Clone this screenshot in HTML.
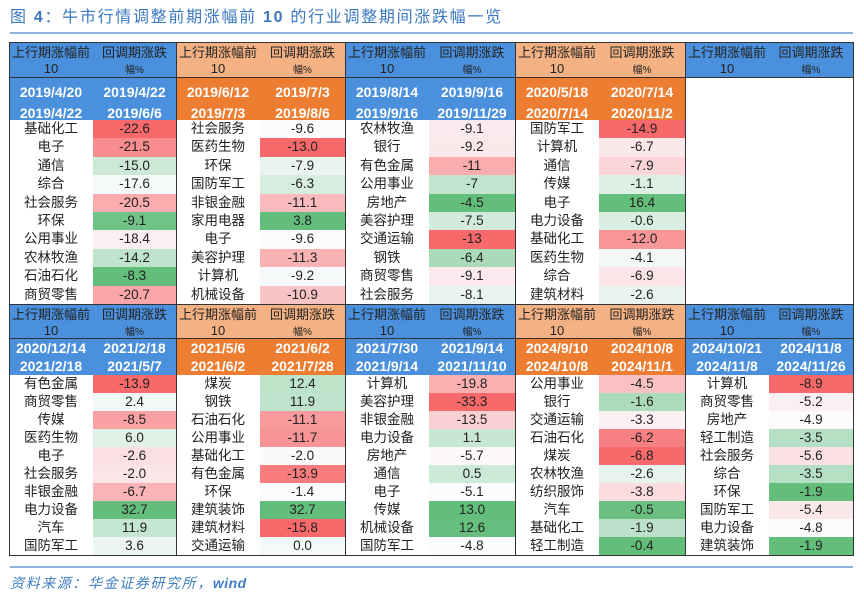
<!DOCTYPE html>
<html><head><meta charset="utf-8">
<style>
*{margin:0;padding:0;box-sizing:border-box}
body{width:864px;height:601px;background:#fff;overflow:hidden;position:relative;font-family:"Liberation Sans","Noto Sans CJK SC",sans-serif;color:#222}
.title{position:absolute;left:10px;top:7px;font-size:16px;letter-spacing:1.7px;color:#3b78c0;white-space:nowrap;line-height:22px}
.title b{font-weight:bold}
.rule{position:absolute;left:10px;width:843px;height:2px;background:#8db3df}
.src{position:absolute;left:10px;top:573px;font-size:14px;letter-spacing:1.6px;color:#3f7cc2;font-style:italic;white-space:nowrap;line-height:20px}
.src b{font-weight:bold;letter-spacing:0.5px}
.blk{position:absolute;overflow:hidden}
.hd{display:flex;width:100%}
.hd .c{text-align:center;font-size:13px;line-height:16px;padding-top:3px}
.l{width:84px;flex:none}
.r{flex:1}
.s{font-size:10px}
.blue{background:#4a90dc}
.peach{background:#f4b183}
.orng{background:#ed7d31}
.dt{display:flex;width:100%;color:#fff;font-weight:bold;font-size:14px}
.dt .c{text-align:center}
.A .dt .c{line-height:21px;padding-top:4.5px}
.B .dt .c{line-height:18px;padding-top:0.5px}
.row{display:flex;width:100%}
.A .row{height:18.4px;line-height:18.4px}
.B .row{height:18px;line-height:18px}
.row .n{width:84px;flex:none;text-align:center;font-size:13.5px;background:#fff}
.row .v{flex:1;text-align:center;font-size:13.5px}
.ln{position:absolute;background:#333}
</style></head><body>

<div class="title">图 <b>4</b>：牛市行情调整前期涨幅前 <b>10</b> 的行业调整期间涨跌幅一览</div>
<div class="rule" style="top:32px"></div>

<!-- Section A -->
<div class="blk A" style="left:9px;top:42px;width:167px;height:262px">
 <div class="hd blue" style="height:35px"><div class="c l">上行期涨幅前<br>10</div><div class="c r">回调期涨跌<br><span class="s">幅%</span></div></div>
 <div class="dt blue" style="height:43px"><div class="c l">2019/4/20<br>2019/4/22</div><div class="c r">2019/4/22<br>2019/6/6</div></div>
 <div class="row"><div class="n">基础化工</div><div class="v" style="background:#F8696B">-22.6</div></div>
 <div class="row"><div class="n">电子</div><div class="v" style="background:#F98C8E">-21.5</div></div>
 <div class="row"><div class="n">通信</div><div class="v" style="background:#CDE9D6">-15.0</div></div>
 <div class="row"><div class="n">综合</div><div class="v" style="background:#F6F9FA">-17.6</div></div>
 <div class="row"><div class="n">社会服务</div><div class="v" style="background:#FAACAF">-20.5</div></div>
 <div class="row"><div class="n">环保</div><div class="v" style="background:#70C386">-9.1</div></div>
 <div class="row"><div class="n">公用事业</div><div class="v" style="background:#FCEFF2">-18.4</div></div>
 <div class="row"><div class="n">农林牧渔</div><div class="v" style="background:#C0E4CB">-14.2</div></div>
 <div class="row"><div class="n">石油石化</div><div class="v" style="background:#63BE7B">-8.3</div></div>
 <div class="row"><div class="n">商贸零售</div><div class="v" style="background:#FAA6A8">-20.7</div></div>
</div>

<div class="blk A" style="left:176px;top:42px;width:169px;height:262px">
 <div class="hd peach" style="height:35px"><div class="c l">上行期涨幅前<br>10</div><div class="c r">回调期涨跌<br><span class="s">幅%</span></div></div>
 <div class="dt orng" style="height:43px"><div class="c l">2019/6/12<br>2019/7/3</div><div class="c r">2019/7/3<br>2019/8/6</div></div>
 <div class="row"><div class="n">社会服务</div><div class="v" style="background:#FCFCFF">-9.6</div></div>
 <div class="row"><div class="n">医药生物</div><div class="v" style="background:#F8696B">-13.0</div></div>
 <div class="row"><div class="n">环保</div><div class="v" style="background:#E9F4EE">-7.9</div></div>
 <div class="row"><div class="n">国防军工</div><div class="v" style="background:#D6EDDF">-6.3</div></div>
 <div class="row"><div class="n">非银金融</div><div class="v" style="background:#FABBBE">-11.1</div></div>
 <div class="row"><div class="n">家用电器</div><div class="v" style="background:#63BE7B">3.8</div></div>
 <div class="row"><div class="n">电子</div><div class="v" style="background:#FCFCFF">-9.6</div></div>
 <div class="row"><div class="n">美容护理</div><div class="v" style="background:#FAB3B5">-11.3</div></div>
 <div class="row"><div class="n">计算机</div><div class="v" style="background:#F7FAFB">-9.2</div></div>
 <div class="row"><div class="n">机械设备</div><div class="v" style="background:#FAC4C6">-10.9</div></div>
</div>

<div class="blk A" style="left:345px;top:42px;width:170px;height:262px">
 <div class="hd blue" style="height:35px"><div class="c l">上行期涨幅前<br>10</div><div class="c r">回调期涨跌<br><span class="s">幅%</span></div></div>
 <div class="dt blue" style="height:43px"><div class="c l">2019/8/14<br>2019/9/16</div><div class="c r">2019/9/16<br>2019/11/29</div></div>
 <div class="row"><div class="n">农林牧渔</div><div class="v" style="background:#FCEBEE">-9.1</div></div>
 <div class="row"><div class="n">银行</div><div class="v" style="background:#FBE8EB">-9.2</div></div>
 <div class="row"><div class="n">有色金属</div><div class="v" style="background:#FAACAE">-11</div></div>
 <div class="row"><div class="n">公用事业</div><div class="v" style="background:#C0E4CC">-7</div></div>
 <div class="row"><div class="n">房地产</div><div class="v" style="background:#63BE7B">-4.5</div></div>
 <div class="row"><div class="n">美容护理</div><div class="v" style="background:#D3EBDC">-7.5</div></div>
 <div class="row"><div class="n">交通运输</div><div class="v" style="background:#F8696B">-13</div></div>
 <div class="row"><div class="n">钢铁</div><div class="v" style="background:#AADBB8">-6.4</div></div>
 <div class="row"><div class="n">商贸零售</div><div class="v" style="background:#FCEBEE">-9.1</div></div>
 <div class="row"><div class="n">社会服务</div><div class="v" style="background:#E9F4EF">-8.1</div></div>
</div>

<div class="blk A" style="left:515px;top:42px;width:170px;height:262px">
 <div class="hd peach" style="height:35px"><div class="c l">上行期涨幅前<br>10</div><div class="c r">回调期涨跌<br><span class="s">幅%</span></div></div>
 <div class="dt orng" style="height:43px"><div class="c l">2020/5/18<br>2020/7/14</div><div class="c r">2020/7/14<br>2020/11/2</div></div>
 <div class="row"><div class="n">国防军工</div><div class="v" style="background:#F8696B">-14.9</div></div>
 <div class="row"><div class="n">计算机</div><div class="v" style="background:#FBE8EB">-6.7</div></div>
 <div class="row"><div class="n">通信</div><div class="v" style="background:#FBD5D8">-7.9</div></div>
 <div class="row"><div class="n">传媒</div><div class="v" style="background:#DEF0E5">-1.1</div></div>
 <div class="row"><div class="n">电子</div><div class="v" style="background:#63BE7B">16.4</div></div>
 <div class="row"><div class="n">电力设备</div><div class="v" style="background:#DAEEE2">-0.6</div></div>
 <div class="row"><div class="n">基础化工</div><div class="v" style="background:#F99698">-12.0</div></div>
 <div class="row"><div class="n">医药生物</div><div class="v" style="background:#F3F8F7">-4.1</div></div>
 <div class="row"><div class="n">综合</div><div class="v" style="background:#FBE5E8">-6.9</div></div>
 <div class="row"><div class="n">建筑材料</div><div class="v" style="background:#E8F4EE">-2.6</div></div>
</div>

<div class="blk A" style="left:685px;top:42px;width:168px;height:262px">
 <div class="hd blue" style="height:35px"><div class="c l">上行期涨幅前<br>10</div><div class="c r">回调期涨跌<br><span class="s">幅%</span></div></div>
</div>

<!-- Section B -->
<div class="blk B" style="left:9px;top:304px;width:167px;height:251px">
 <div class="hd blue" style="height:34px"><div class="c l">上行期涨幅前<br>10</div><div class="c r">回调期涨跌<br><span class="s">幅%</span></div></div>
 <div class="dt blue" style="height:37px"><div class="c l">2020/12/14<br>2021/2/18</div><div class="c r">2021/2/18<br>2021/5/7</div></div>
 <div class="row"><div class="n">有色金属</div><div class="v" style="background:#F8696B">-13.9</div></div>
 <div class="row"><div class="n">商贸零售</div><div class="v" style="background:#F2F8F6">2.4</div></div>
 <div class="row"><div class="n">传媒</div><div class="v" style="background:#FAA1A4">-8.5</div></div>
 <div class="row"><div class="n">医药生物</div><div class="v" style="background:#E1F1E8">6.0</div></div>
 <div class="row"><div class="n">电子</div><div class="v" style="background:#FBDFE2">-2.6</div></div>
 <div class="row"><div class="n">社会服务</div><div class="v" style="background:#FBE5E8">-2.0</div></div>
 <div class="row"><div class="n">非银金融</div><div class="v" style="background:#FAB4B7">-6.7</div></div>
 <div class="row"><div class="n">电力设备</div><div class="v" style="background:#63BE7B">32.7</div></div>
 <div class="row"><div class="n">汽车</div><div class="v" style="background:#C5E6CF">11.9</div></div>
 <div class="row"><div class="n">国防军工</div><div class="v" style="background:#ECF5F1">3.6</div></div>
</div>

<div class="blk B" style="left:176px;top:304px;width:169px;height:251px">
 <div class="hd peach" style="height:34px"><div class="c l">上行期涨幅前<br>10</div><div class="c r">回调期涨跌<br><span class="s">幅%</span></div></div>
 <div class="dt orng" style="height:37px"><div class="c l">2021/5/6<br>2021/6/2</div><div class="c r">2021/6/2<br>2021/7/28</div></div>
 <div class="row"><div class="n">煤炭</div><div class="v" style="background:#BDE3C9">12.4</div></div>
 <div class="row"><div class="n">钢铁</div><div class="v" style="background:#C0E4CB">11.9</div></div>
 <div class="row"><div class="n">石油石化</div><div class="v" style="background:#F99A9C">-11.1</div></div>
 <div class="row"><div class="n">公用事业</div><div class="v" style="background:#F99496">-11.7</div></div>
 <div class="row"><div class="n">基础化工</div><div class="v" style="background:#FCF9FC">-2.0</div></div>
 <div class="row"><div class="n">有色金属</div><div class="v" style="background:#F97D7F">-13.9</div></div>
 <div class="row"><div class="n">环保</div><div class="v" style="background:#FBFBFE">-1.4</div></div>
 <div class="row"><div class="n">建筑装饰</div><div class="v" style="background:#63BE7B">32.7</div></div>
 <div class="row"><div class="n">建筑材料</div><div class="v" style="background:#F8696B">-15.8</div></div>
 <div class="row"><div class="n">交通运输</div><div class="v" style="background:#F4F9F9">0.0</div></div>
</div>

<div class="blk B" style="left:345px;top:304px;width:170px;height:251px">
 <div class="hd blue" style="height:34px"><div class="c l">上行期涨幅前<br>10</div><div class="c r">回调期涨跌<br><span class="s">幅%</span></div></div>
 <div class="dt blue" style="height:37px"><div class="c l">2021/7/30<br>2021/9/14</div><div class="c r">2021/9/14<br>2021/11/10</div></div>
 <div class="row"><div class="n">计算机</div><div class="v" style="background:#FAAFB1">-19.8</div></div>
 <div class="row"><div class="n">美容护理</div><div class="v" style="background:#F8696B">-33.3</div></div>
 <div class="row"><div class="n">非银金融</div><div class="v" style="background:#FBD0D2">-13.5</div></div>
 <div class="row"><div class="n">电力设备</div><div class="v" style="background:#C8E7D3">1.1</div></div>
 <div class="row"><div class="n">房地产</div><div class="v" style="background:#FCF8FB">-5.7</div></div>
 <div class="row"><div class="n">通信</div><div class="v" style="background:#CDE9D7">0.5</div></div>
 <div class="row"><div class="n">电子</div><div class="v" style="background:#FCFBFE">-5.1</div></div>
 <div class="row"><div class="n">传媒</div><div class="v" style="background:#63BE7B">13.0</div></div>
 <div class="row"><div class="n">机械设备</div><div class="v" style="background:#66BF7E">12.6</div></div>
 <div class="row"><div class="n">国防军工</div><div class="v" style="background:#FBFCFE">-4.8</div></div>
</div>

<div class="blk B" style="left:515px;top:304px;width:170px;height:251px">
 <div class="hd peach" style="height:34px"><div class="c l">上行期涨幅前<br>10</div><div class="c r">回调期涨跌<br><span class="s">幅%</span></div></div>
 <div class="dt orng" style="height:37px"><div class="c l">2024/9/10<br>2024/10/8</div><div class="c r">2024/10/8<br>2024/11/1</div></div>
 <div class="row"><div class="n">公用事业</div><div class="v" style="background:#FAC1C3">-4.5</div></div>
 <div class="row"><div class="n">银行</div><div class="v" style="background:#ABDBB9">-1.6</div></div>
 <div class="row"><div class="n">交通运输</div><div class="v" style="background:#FCEFF2">-3.3</div></div>
 <div class="row"><div class="n">石油石化</div><div class="v" style="background:#F98082">-6.2</div></div>
 <div class="row"><div class="n">煤炭</div><div class="v" style="background:#F8696B">-6.8</div></div>
 <div class="row"><div class="n">农林牧渔</div><div class="v" style="background:#E7F3ED">-2.6</div></div>
 <div class="row"><div class="n">纺织服饰</div><div class="v" style="background:#FBDCDE">-3.8</div></div>
 <div class="row"><div class="n">汽车</div><div class="v" style="background:#69C080">-0.5</div></div>
 <div class="row"><div class="n">基础化工</div><div class="v" style="background:#BDE2C9">-1.9</div></div>
 <div class="row"><div class="n">轻工制造</div><div class="v" style="background:#63BE7B">-0.4</div></div>
</div>

<div class="blk B" style="left:685px;top:304px;width:168px;height:251px">
 <div class="hd blue" style="height:34px"><div class="c l">上行期涨幅前<br>10</div><div class="c r">回调期涨跌<br><span class="s">幅%</span></div></div>
 <div class="dt blue" style="height:37px"><div class="c l">2024/10/21<br>2024/11/8</div><div class="c r">2024/11/8<br>2024/11/26</div></div>
 <div class="row"><div class="n">计算机</div><div class="v" style="background:#F8696B">-8.9</div></div>
 <div class="row"><div class="n">商贸零售</div><div class="v" style="background:#FCEFF2">-5.2</div></div>
 <div class="row"><div class="n">房地产</div><div class="v" style="background:#FCFAFD">-4.9</div></div>
 <div class="row"><div class="n">轻工制造</div><div class="v" style="background:#B6E0C3">-3.5</div></div>
 <div class="row"><div class="n">社会服务</div><div class="v" style="background:#FBE1E4">-5.6</div></div>
 <div class="row"><div class="n">综合</div><div class="v" style="background:#B6E0C3">-3.5</div></div>
 <div class="row"><div class="n">环保</div><div class="v" style="background:#63BE7B">-1.9</div></div>
 <div class="row"><div class="n">国防军工</div><div class="v" style="background:#FBE8EB">-5.4</div></div>
 <div class="row"><div class="n">电力设备</div><div class="v" style="background:#F9FBFD">-4.8</div></div>
 <div class="row"><div class="n">建筑装饰</div><div class="v" style="background:#63BE7B">-1.9</div></div>
</div>

<!-- grid lines -->
<div class="ln" style="left:9px;top:42px;width:845px;height:1px"></div>
<div class="ln" style="left:9px;top:77px;width:845px;height:1px"></div>
<div class="ln" style="left:9px;top:304px;width:845px;height:1px"></div>
<div class="ln" style="left:9px;top:338px;width:845px;height:1px"></div>
<div class="ln" style="left:9px;top:555px;width:845px;height:1px"></div>
<div class="ln" style="left:9px;top:42px;width:1px;height:514px"></div>
<div class="ln" style="left:176px;top:42px;width:1px;height:514px"></div>
<div class="ln" style="left:345px;top:42px;width:1px;height:514px"></div>
<div class="ln" style="left:515px;top:42px;width:1px;height:514px"></div>
<div class="ln" style="left:685px;top:42px;width:1px;height:514px"></div>
<div class="ln" style="left:853px;top:42px;width:1px;height:514px"></div>

<div class="rule" style="top:566px"></div>
<div class="src">资料来源：华金证券研究所，<b>wind</b></div>
</body></html>
